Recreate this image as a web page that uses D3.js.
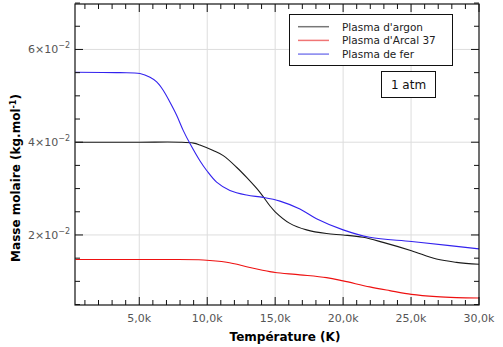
<!DOCTYPE html>
<html>
<head>
<meta charset="utf-8">
<script src="https://cdn.jsdelivr.net/npm/d3@7"></script>
<style>
	body { margin: 0; background: #fff; }
	text { font-family: "DejaVu Sans", sans-serif; }
</style>
</head>
<body>
<script>
var width = 503,
		height = 347,
		marginTop = 4,
		marginLeft = 75,
		marginRight = 24,
		marginBottom = 42;

// data (temperature in K, molar mass in kg/mol)
var argonT = [300, 5000, 8000, 9000, 9460, 10440, 11180, 12160, 12900, 13880, 14610, 15000, 16080, 17310, 18780, 20000, 21470, 22940, 25030, 26870, 28340, 30000];
var argonM = [0.0400, 0.0400, 0.0400, 0.0398, 0.0394, 0.0382, 0.0371, 0.0346, 0.0324, 0.0292, 0.0263, 0.0250, 0.0225, 0.0211, 0.0203, 0.0200, 0.0195, 0.0184, 0.0166, 0.0148, 0.0141, 0.0137];

var arcalT = [300, 5000, 7260, 9710, 11430, 13140, 14610, 15000, 16820, 18780, 20000, 21960, 23430, 25030, 26870, 28340, 30000];
var arcalM = [0.0147, 0.0147, 0.0147, 0.0146, 0.0141, 0.0130, 0.0121, 0.0119, 0.0114, 0.0108, 0.0101, 0.0088, 0.0080, 0.0072, 0.0067, 0.0065, 0.0064];

var ferT = [300, 3580, 5050, 5790, 6280, 6760, 7260, 7750, 8240, 8730, 9460, 9960, 10690, 11670, 12900, 14120, 15350, 16820, 18040, 20000, 21960, 25030, 27850, 30000];
var ferM = [0.0551, 0.0550, 0.0548, 0.0540, 0.0530, 0.0512, 0.0486, 0.0458, 0.0425, 0.0397, 0.0360, 0.0339, 0.0314, 0.0296, 0.0286, 0.0281, 0.0273, 0.0256, 0.0235, 0.0211, 0.0195, 0.0186, 0.0177, 0.0170];

var seriesNames = ["Plasma d'argon", "Plasma d'Arcal 37", "Plasma de fer"];
var seriesColors = ["#1a1a1a", "#ee1111", "#3322ee"];
var legendColors = ["#777777", "#f07575", "#8080ee"];

var xTicks = [5000, 10000, 15000, 20000, 25000, 30000];
var xTickLabels = ["5,0k", "10,0k", "15,0k", "20,0k", "25,0k", "30,0k"];
var yTicks = [0.02, 0.04, 0.06];
var yTickMantissa = ["2", "4", "6"];

var series = [
	{ name: seriesNames[0], t: argonT, m: argonM },
	{ name: seriesNames[1], t: arcalT, m: arcalM },
	{ name: seriesNames[2], t: ferT, m: ferM }
];

var x = d3.scaleLinear()
	.domain([270, 30000])
	.range([marginLeft, width - marginRight]);

var y = d3.scaleLinear()
	.domain([0.0049, 0.0698])
	.range([height - marginBottom, marginTop]);

var svg = d3.select("body")
	.append("svg")
	.attr("width", width)
	.attr("height", height);

var x0 = marginLeft, x1 = width - marginRight,
		y0 = height - marginBottom, y1 = marginTop;

// grid
svg.append("g")
	.selectAll("line")
	.data(xTicks.slice(0, 5))
	.enter()
	.append("line")
	.attr("x1", function (d) { return x(d); })
	.attr("x2", function (d) { return x(d); })
	.attr("y1", y1)
	.attr("y2", y0)
	.style("stroke", "#dddddd")
	.style("stroke-width", 1);

svg.append("g")
	.selectAll("line")
	.data(yTicks)
	.enter()
	.append("line")
	.attr("x1", x0)
	.attr("x2", x1)
	.attr("y1", function (d) { return y(d); })
	.attr("y2", function (d) { return y(d); })
	.style("stroke", "#dddddd")
	.style("stroke-width", 1);

// curves
var line = d3.line()
	.x(function (d) { return x(d[0]); })
	.y(function (d) { return y(d[1]); })
	.curve(d3.curveCatmullRom.alpha(0.5));

svg.append("g")
	.selectAll("path")
	.data(series)
	.enter()
	.append("path")
	.attr("d", function (s) {
		return line(s.t.map(function (t, i) { return [t, s.m[i]]; }));
	})
	.style("fill", "none")
	.style("stroke", function (s, i) { return seriesColors[i]; })
	.style("stroke-width", 1.1);

// minor and major ticks on all four sides, pointing inward
var xMinor = d3.range(1000, 30001, 1000);
var yMinor = d3.range(0.005, 0.0701, 0.005);
var ticks = svg.append("g").style("stroke", "#111").style("stroke-width", 1);

xMinor.forEach(function (t) {
	var major = (t % 5000 === 0);
	var len = major ? 8 : 5;
	ticks.append("line")
		.attr("x1", x(t)).attr("x2", x(t))
		.attr("y1", y0).attr("y2", y0 - len);
	ticks.append("line")
		.attr("x1", x(t)).attr("x2", x(t))
		.attr("y1", y1).attr("y2", y1 + len);
});

yMinor.forEach(function (v) {
	var major = Math.abs(v * 100 - Math.round(v * 100)) < 1e-6 && Math.round(v * 100) % 2 === 0;
	var len = major ? 8 : 5;
	ticks.append("line")
		.attr("x1", x0).attr("x2", x0 + len)
		.attr("y1", y(v)).attr("y2", y(v));
	ticks.append("line")
		.attr("x1", x1).attr("x2", x1 - len)
		.attr("y1", y(v)).attr("y2", y(v));
});

// frame
svg.append("rect")
	.attr("x", x0)
	.attr("y", y1)
	.attr("width", x1 - x0)
	.attr("height", y0 - y1)
	.style("fill", "none")
	.style("stroke", "#111")
	.style("stroke-width", 1.2);

// tick labels
svg.append("g")
	.selectAll("text")
	.data(xTicks)
	.enter()
	.append("text")
	.attr("x", function (d) { return x(d); })
	.attr("y", y0 + 17)
	.attr("text-anchor", "middle")
	.style("font-size", "11px")
	.style("fill", "#555")
	.text(function (d, i) { return xTickLabels[i]; });

var yl = svg.append("g")
	.selectAll("text")
	.data(yTicks)
	.enter()
	.append("text")
	.attr("x", x0 - 5)
	.attr("y", function (d) { return y(d) + 4; })
	.attr("text-anchor", "end")
	.style("font-size", "11px")
	.style("fill", "#555");
yl.append("tspan").text(function (d, i) { return yTickMantissa[i] + "\u00d710"; });
yl.append("tspan")
	.attr("dy", -5)
	.style("font-size", "8px")
	.text("\u22122");

// axis titles
svg.append("text")
	.attr("x", 285)
	.attr("y", 341)
	.attr("text-anchor", "middle")
	.style("font-size", "12px")
	.style("font-weight", "bold")
	.style("fill", "#000")
	.text("Température (K)");

var yTitle = svg.append("text")
	.attr("transform", "translate(20,178) rotate(-90)")
	.attr("text-anchor", "middle")
	.style("font-size", "12px")
	.style("font-weight", "bold")
	.style("fill", "#000");
yTitle.append("tspan").text("Masse molaire (kg.mol");
yTitle.append("tspan").attr("dy", -4).style("font-size", "8px").text("-1");
yTitle.append("tspan").attr("dy", 4).text(")");

// legend
var legend = svg.append("g");
legend.append("rect")
	.attr("x", 289.5)
	.attr("y", 14.5)
	.attr("width", 163)
	.attr("height", 51)
	.style("fill", "#fff")
	.style("stroke", "#111")
	.style("stroke-width", 1);

var items = legend.selectAll(".item")
	.data(seriesNames)
	.enter()
	.append("g")
	.attr("transform", function (d, i) { return "translate(0," + (26.7 + i * 13.7) + ")"; });
items.append("line")
	.attr("x1", 298).attr("x2", 329)
	.attr("y1", 0).attr("y2", 0)
	.style("stroke", function (d, i) { return legendColors[i]; })
	.style("stroke-width", 1.5);
items.append("text")
	.attr("x", 342)
	.attr("y", 4)
	.style("font-size", "10.5px")
	.style("fill", "#222")
	.text(function (d) { return d; });

// pressure box
svg.append("rect")
	.attr("x", 381.5)
	.attr("y", 71.5)
	.attr("width", 54)
	.attr("height", 26)
	.style("fill", "#fff")
	.style("stroke", "#111")
	.style("stroke-width", 1);
svg.append("text")
	.attr("x", 408.5)
	.attr("y", 89)
	.attr("text-anchor", "middle")
	.style("font-size", "12px")
	.style("fill", "#111")
	.text("1 atm");
</script>
</body>
</html>
